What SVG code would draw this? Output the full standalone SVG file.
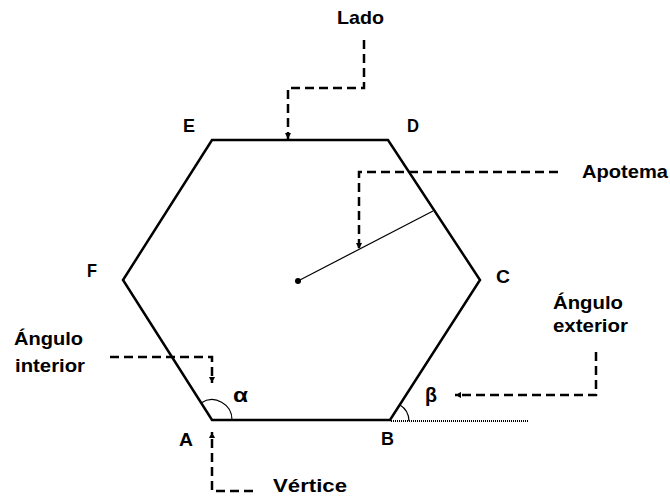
<svg xmlns="http://www.w3.org/2000/svg" width="670" height="501" viewBox="0 0 670 501">
<style>
  .lbl { font-family: "Liberation Sans", Arial, sans-serif; font-weight: bold; font-size: 19px; fill: #000; }
  .greek { font-family: "Liberation Sans", Arial, sans-serif; font-weight: bold; font-size: 21px; fill: #000; }
  .edge { fill: none; stroke: #000; stroke-width: 2.5; stroke-linejoin: miter; }
  .dash { fill: none; stroke: #000; stroke-width: 2.5; stroke-dasharray: 9 5; }
  .thin { fill: none; stroke: #000; stroke-width: 1.2; }
</style>
<defs>
  <marker id="arr" viewBox="0 0 10 10" refX="10" refY="5" markerWidth="6" markerHeight="6" markerUnits="userSpaceOnUse" orient="auto">
    <path d="M0,0 L10,5 L0,10 Z" fill="#000"/>
  </marker>
</defs>
<rect width="670" height="501" fill="#fff"/>

<g id="hexagon">
  <polygon class="edge" points="212,140 388,140 480,280 390,420 212,420 123,280"/>
  <line x1="298" y1="281" x2="433" y2="211" class="thin"/>
  <circle cx="298" cy="281" r="3" fill="#000"/>
  <path d="M201,403 A20,20 0 0 1 232,420" class="thin"/>
  <path d="M400,405 A19,19 0 0 1 409,421" class="thin"/>
  <line x1="391" y1="421" x2="529" y2="421" fill="none" stroke="#000" stroke-width="2" stroke-dasharray="1 1"/>
</g>

<g id="vertex-labels">
  <text class="lbl" x="183" y="132" textLength="12" lengthAdjust="spacingAndGlyphs">E</text>
  <text class="lbl" x="407" y="132" textLength="12" lengthAdjust="spacingAndGlyphs">D</text>
  <text class="lbl" x="87" y="277" textLength="10" lengthAdjust="spacingAndGlyphs">F</text>
  <text class="lbl" x="496" y="283" textLength="14" lengthAdjust="spacingAndGlyphs">C</text>
  <text class="lbl" x="179" y="446" textLength="14" lengthAdjust="spacingAndGlyphs">A</text>
  <text class="lbl" x="381" y="445" textLength="13" lengthAdjust="spacingAndGlyphs">B</text>
  <text class="greek" x="233" y="402" textLength="15" lengthAdjust="spacingAndGlyphs">α</text>
  <text class="greek" x="425" y="402" textLength="12" lengthAdjust="spacingAndGlyphs">β</text>
</g>

<g id="connectors">
  <polyline class="dash" points="364,40 364,88 288,88 288,139" marker-end="url(#arr)"/>
  <polyline class="dash" points="558,172 359,172 359,249" marker-end="url(#arr)"/>
  <polyline class="dash" points="110,357 212,357 212,383" marker-end="url(#arr)"/>
  <polyline class="dash" points="253,491 212,491 212,432" marker-end="url(#arr)"/>
  <polyline class="dash" points="596,352 596,395 455,395" marker-end="url(#arr)"/>
</g>

<g id="lado"><text class="lbl" x="337" y="24" textLength="47" lengthAdjust="spacingAndGlyphs">Lado</text></g>
<g id="apotema"><text class="lbl" x="582" y="178" textLength="86" lengthAdjust="spacingAndGlyphs">Apotema</text></g>
<g id="angulo-interior">
  <text class="lbl" x="14" y="345" textLength="69" lengthAdjust="spacingAndGlyphs">Ángulo</text>
  <text class="lbl" x="15" y="372" textLength="70" lengthAdjust="spacingAndGlyphs">interior</text>
</g>
<g id="angulo-exterior">
  <text class="lbl" x="553" y="309" textLength="70" lengthAdjust="spacingAndGlyphs">Ángulo</text>
  <text class="lbl" x="553" y="332" textLength="75" lengthAdjust="spacingAndGlyphs">exterior</text>
</g>
<g id="vertice"><text class="lbl" x="273" y="492" textLength="74" lengthAdjust="spacingAndGlyphs">Vértice</text></g>
</svg>
